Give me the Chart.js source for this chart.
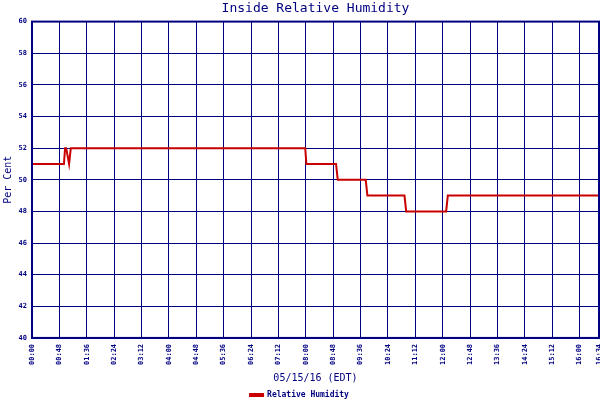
<!DOCTYPE html>
<html>
<head>
<meta charset="utf-8">
<script src="https://cdn.jsdelivr.net/npm/chart.js@4.4.0/dist/chart.umd.min.js"></script>
<style>
  html, body { margin: 0; padding: 0; background: #fff; }
  #wrap { width: 600px; height: 400px; }
</style>
</head>
<body>
<div id="wrap"><canvas id="c" width="600" height="400"></canvas></div>
<script>
// minutes after midnight, 05/15/16
var times  = [0,  56, 58, 60, 65, 68, 479, 481, 533, 536, 585, 588, 653, 656, 726, 729, 994];
var values = [51, 51, 52, 52, 51, 52, 52,  51,  51,  50,  50,  49,  49,  48,  48,  49,  49];

var tickMinutes = [0, 48, 96, 144, 192, 240, 288, 336, 384, 432, 480, 528, 576, 624, 672, 720, 768, 816, 864, 912, 960, 994];
var yTicks = [40, 42, 44, 46, 48, 50, 52, 54, 56, 58, 60];

var navy = '#000080';
var red = '#c80000';

function hhmm(m) {
    var h = Math.floor(m / 60), mm = m % 60;
    return (h < 10 ? '0' : '') + h + ':' + (mm < 10 ? '0' : '') + mm;
}

var points = [];
times.forEach(function(t, i) {
    points.push({x: t, y: values[i]});
});

// thick frame round the plot area
var frame = {
    id: 'frame',
    afterDatasetsDraw: function(chart) {
        var a = chart.chartArea, ctx = chart.ctx;
        ctx.save();
        ctx.strokeStyle = navy;
        ctx.lineWidth = 2;
        ctx.strokeRect(a.left, a.top, a.right - a.left, a.bottom - a.top);
        ctx.restore();
    }
};

var ctx = document.getElementById('c').getContext('2d');

new Chart(ctx, {
    type: 'line',
    data: {
        datasets: [{
            label: 'Relative Humidity',
            data: points,
            borderColor: red,
            backgroundColor: red,
            borderWidth: 2,
            pointRadius: 0,
            tension: 0,
            fill: false
        }]
    },
    options: {
        responsive: false,
        animation: false,
        layout: { padding: { left: 0, right: 1, top: 0, bottom: -9 } },
        plugins: {
            title: {
                display: true,
                text: 'Inside Relative Humidity',
                color: navy,
                fullSize: false,
                font: { family: 'DejaVu Sans Mono', size: 13, weight: 'normal' },
                padding: { top: 1, bottom: 5 }
            },
            legend: {
                position: 'bottom',
                labels: {
                    color: navy,
                    boxWidth: 13,
                    boxHeight: 2,
                    padding: 2,
                    font: { family: 'DejaVu Sans Mono', size: 8, weight: 'bold' }
                }
            },
            tooltip: { enabled: false }
        },
        scales: {
            x: {
                type: 'linear',
                min: 0,
                max: 994,
                afterBuildTicks: function(scale) {
                    scale.ticks = tickMinutes.map(function(v) { return {value: v}; });
                },
                afterFit: function(scale) {
                    scale.paddingLeft = 0;
                    scale.paddingRight = 0;
                },
                ticks: {
                    autoSkip: false,
                    minRotation: 90,
                    maxRotation: 90,
                    padding: 6,
                    color: navy,
                    font: { family: 'DejaVu Sans Mono', size: 7, weight: 'bold' },
                    callback: function(v) { return hhmm(v); }
                },
                grid: { color: navy, lineWidth: 1, drawTicks: false },
                border: { color: navy, width: 2 },
                title: {
                    display: true,
                    text: '05/15/16 (EDT)',
                    color: navy,
                    font: { family: 'DejaVu Sans Mono', size: 10 },
                    padding: { top: 1, bottom: 5 }
                }
            },
            y: {
                min: 40,
                max: 60,
                afterBuildTicks: function(scale) {
                    scale.ticks = yTicks.map(function(v) { return {value: v}; });
                },
                afterFit: function(scale) {
                    scale.width = 32;
                },
                ticks: {
                    padding: 5,
                    color: navy,
                    font: { family: 'DejaVu Sans Mono', size: 7, weight: 'bold' }
                },
                grid: { color: navy, lineWidth: 1, drawTicks: false },
                border: { color: navy, width: 2 },
                title: {
                    display: true,
                    text: 'Per Cent',
                    color: navy,
                    font: { family: 'DejaVu Sans Mono', size: 10 },
                    padding: 2
                }
            }
        }
    },
    plugins: [frame]
});
</script>
</body>
</html>
